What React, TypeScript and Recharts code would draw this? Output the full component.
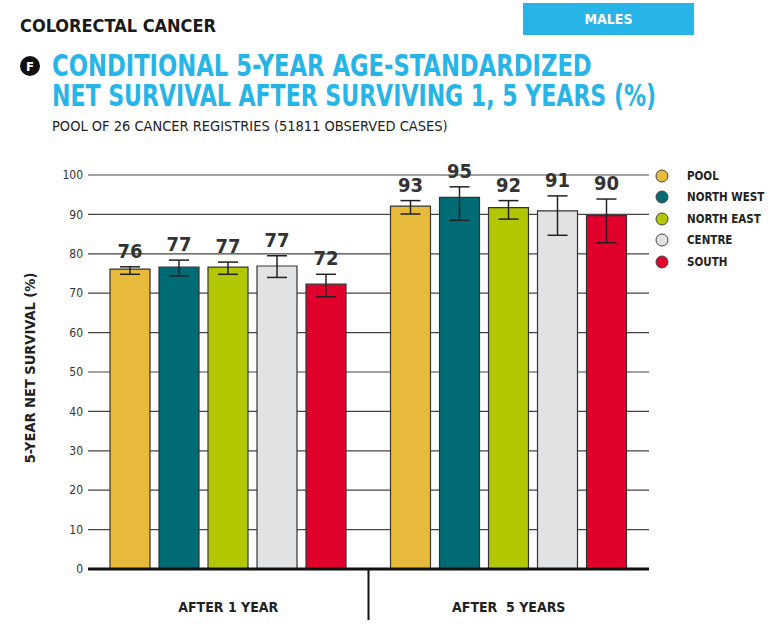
import React from 'react';
import { BarChart, Bar, XAxis, YAxis, CartesianGrid, ErrorBar, LabelList, Legend } from 'recharts';

const categories = ['AFTER 1 YEAR', 'AFTER  5 YEARS'];
const seriesNames = ['POOL', 'NORTH WEST', 'NORTH EAST', 'CENTRE', 'SOUTH'];
const seriesColors = ['#e8ba3c', '#006b74', '#b3c700', '#e1e2e4', '#e0002b'];

const after1Values = [76.1, 76.6, 76.6, 76.9, 72.3];
const after5Values = [92.1, 94.3, 91.7, 90.9, 89.7];
const after1Labels = [76, 77, 77, 77, 72];
const after5Labels = [93, 95, 92, 91, 90];
const after1Low = [74.8, 74.4, 74.8, 74.0, 69.1];
const after1High = [76.7, 78.4, 77.9, 79.5, 74.8];
const after5Low = [90.1, 88.5, 88.8, 84.7, 82.8];
const after5High = [93.5, 97.0, 93.5, 94.7, 93.9];
const yTicks = [0, 10, 20, 30, 40, 50, 60, 70, 80, 90, 100];

const FONT = '"DejaVu Sans Condensed", "Liberation Sans Narrow", "Roboto", sans-serif';
const BLUE = '#27b4e6';

const groups = [
  { values: after1Values, labels: after1Labels, low: after1Low, high: after1High },
  { values: after5Values, labels: after5Labels, low: after5Low, high: after5High },
];

const data = categories.map((cat, ci) => {
  const row: any = { cat };
  const g = groups[ci];
  seriesNames.forEach((_, si) => {
    row['s' + si] = g.values[si];
    row['l' + si] = g.labels[si];
    row['e' + si] = [g.values[si] - g.low[si], g.high[si] - g.values[si]];
  });
  return row;
});

const makeLabel = (si: number) => (props: any) => {
  const { x, y, width, height, value, index } = props;
  const row = data[index];
  const v = row['s' + si];
  const pxPerUnit = height / v;
  const errTop = y - row['e' + si][1] * pxPerUnit;
  return (
    <text
      x={x + width / 2}
      y={errTop - 9}
      textAnchor="middle"
      fontFamily={FONT}
      fontSize={20}
      fontWeight={700}
      fill="#333"
    >
      {value}
    </text>
  );
};

const XTick = (props: any) => {
  const { x, y, payload, index } = props;
  const half = payload && payload.offset != null ? payload.offset : 140;
  return (
    <g>
      {index === 1 && (
        <line x1={x - half} x2={x - half} y1={y - 8} y2={y + 43} stroke="#111" strokeWidth={2} />
      )}
      <text
        x={x}
        y={y + 35}
        textAnchor="middle"
        fontFamily={FONT}
        fontSize={14}
        fontWeight={700}
        fill="#222"
        style={{ whiteSpace: 'pre' }}
      >
        {payload.value}
      </text>
    </g>
  );
};

const LegendContent = () => (
  <div style={{ fontFamily: FONT }}>
    {seriesNames.map((name, i) => (
      <div key={name} style={{ display: 'flex', alignItems: 'center', height: 21.5 }}>
        <svg width={16} height={16} style={{ marginRight: 17 }}>
          <circle cx={8} cy={8} r={6} fill={seriesColors[i]} stroke="#444" strokeWidth={1} />
        </svg>
        <span style={{ fontSize: 11.5, fontWeight: 700, color: '#222', whiteSpace: 'nowrap' }}>{name}</span>
      </div>
    ))}
  </div>
);

const YLabel = (props: any) => {
  const { viewBox } = props;
  const cx = viewBox.x + 2;
  const cy = viewBox.y + viewBox.height / 2 - 4;
  return (
    <text
      x={cx}
      y={cy}
      transform={`rotate(-90 ${cx} ${cy})`}
      textAnchor="middle"
      dominantBaseline="central"
      fontFamily={FONT}
      fontSize={14.5}
      fontWeight={700}
      fill="#222"
    >
      5-YEAR NET SURVIVAL (%)
    </text>
  );
};

const titleStyle: React.CSSProperties = {
  position: 'absolute', left: 52, fontSize: 30, fontWeight: 700, color: BLUE, lineHeight: '26px', height: 26,
  whiteSpace: 'nowrap', transformOrigin: 'left top',
};

export default function App() {
  return (
    <div style={{ position: 'absolute', left: 0, top: 0, width: 772, height: 633, background: '#fff', fontFamily: FONT }}>
      <div style={{ position: 'absolute', left: 20, top: 15, fontSize: 18, fontWeight: 700, color: '#1a1a1a', whiteSpace: 'nowrap' }}>
        COLORECTAL CANCER
      </div>
      <div
        style={{
          position: 'absolute', left: 523, top: 3, width: 171, height: 32, background: BLUE,
          color: '#fff', fontSize: 14, fontWeight: 700, display: 'flex', alignItems: 'center', justifyContent: 'center',
        }}
      >
        MALES
      </div>
      <div
        style={{
          position: 'absolute', left: 20, top: 56, width: 20, height: 20, borderRadius: 10, background: '#111',
          color: '#fff', fontSize: 13, fontWeight: 700, display: 'flex', alignItems: 'center', justifyContent: 'center',
        }}
      >
        F
      </div>
      <div style={{ ...titleStyle, top: 53, transform: 'scaleX(0.84)' }}>
        CONDITIONAL 5-YEAR AGE-STANDARDIZED
      </div>
      <div style={{ ...titleStyle, top: 83, transform: 'scaleX(0.817)' }}>
        NET SURVIVAL AFTER SURVIVING 1, 5 YEARS (%)
      </div>
      <div style={{ position: 'absolute', left: 52, top: 118, fontSize: 14.5, color: '#222', whiteSpace: 'nowrap' }}>
        POOL OF 26 CANCER REGISTRIES (51811 OBSERVED CASES)
      </div>
      <div style={{ position: 'absolute', left: 0, top: 0 }}>
        <BarChart
          width={772}
          height={633}
          data={data}
          margin={{ top: 175, right: 123, bottom: 34, left: 28 }}
          barSize={40}
          barGap={9}
        >
          <CartesianGrid vertical={false} stroke="#444" strokeWidth={1.2} />
          <XAxis
            dataKey="cat"
            height={30}
            axisLine={{ stroke: '#111', strokeWidth: 3 }}
            tickLine={false}
            tick={<XTick />}
            interval={0}
          />
          <YAxis
            width={60}
            domain={[0, 100]}
            ticks={yTicks}
            axisLine={false}
            tickLine={false}
            tickSize={4}
            tickMargin={1}
            tick={{ fontFamily: FONT, fontSize: 12, fill: '#333' }}
            label={<YLabel />}
          />
          <Legend
            layout="vertical"
            align="center"
            verticalAlign="middle"
            content={<LegendContent />}
            wrapperStyle={{ position: 'absolute', left: 654, top: 165, width: 115, height: 'auto' }}
          />
          {seriesNames.map((name, si) => (
            <Bar
              key={name}
              dataKey={'s' + si}
              name={name}
              fill={seriesColors[si]}
              stroke="#333"
              strokeWidth={1.2}
              isAnimationActive={false}
            >
              <ErrorBar dataKey={'e' + si} width={10} stroke="#222" strokeWidth={1.5} direction="y" />
              <LabelList dataKey={'l' + si} content={makeLabel(si)} />
            </Bar>
          ))}
        </BarChart>
      </div>
    </div>
  );
}
